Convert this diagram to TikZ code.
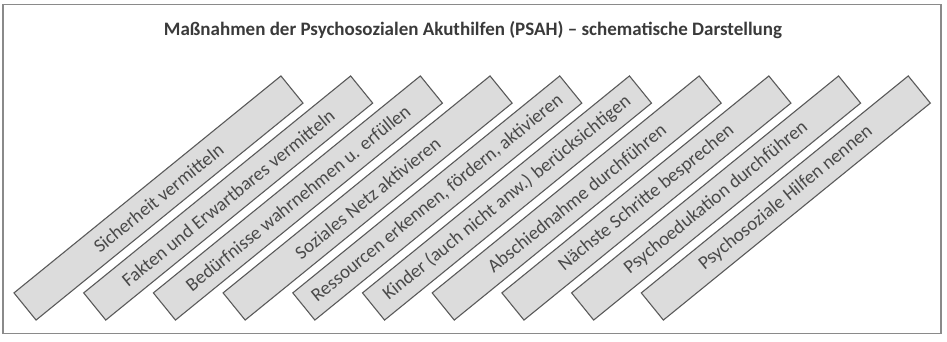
\documentclass[tikz,border=0pt]{standalone}
\usepackage{fontspec}
\setmainfont{Carlito}
\definecolor{barfill}{HTML}{DCDCDC}
\definecolor{barline}{HTML}{5A5A5A}
\definecolor{bartext}{HTML}{4A4A4A}
\definecolor{frameline}{HTML}{8A8A8A}
\definecolor{titletext}{HTML}{3A3A3A}
\begin{document}
\begin{tikzpicture}[x=1pt,y=1pt,
  barbox/.style={draw=barline, fill=barfill, line width=1.1pt, rotate=39.1,
    minimum width=344pt, minimum height=35pt, inner sep=0pt,
    font=\fontsize{19}{21}\selectfont, text=bartext},
  titlestyle/.style={font=\bfseries\fontsize{19}{21}\selectfont, text=titletext}]
\useasboundingbox (0,0) rectangle (947,341);
\node[draw=frameline, line width=1.6pt, minimum width=938pt, minimum height=329pt, inner sep=0pt] (frame) at (472,172) {};
\node[titlestyle] (title) at (473,311) {Maßnahmen der Psychosozialen Akuthilfen (PSAH) – schematische Darstellung};
\foreach \t [count=\i from 0] in {Sicherheit vermitteln,
  Fakten und Erwartbares vermitteln,
  Bedürfnisse wahrnehmen u. erfüllen,
  Soziales Netz aktivieren,
  {Ressourcen erkennen, fördern, aktivieren},
  Kinder (auch nicht anw.) berücksichtigen,
  Abschiednahme durchführen,
  Nächste Schritte besprechen,
  Psychoedukation durchführen,
  Psychosoziale Hilfen nennen}
  \node[barbox] (bar\i) at ({158.5+69.7*\i},143) {\t};
\end{tikzpicture}
\end{document}
